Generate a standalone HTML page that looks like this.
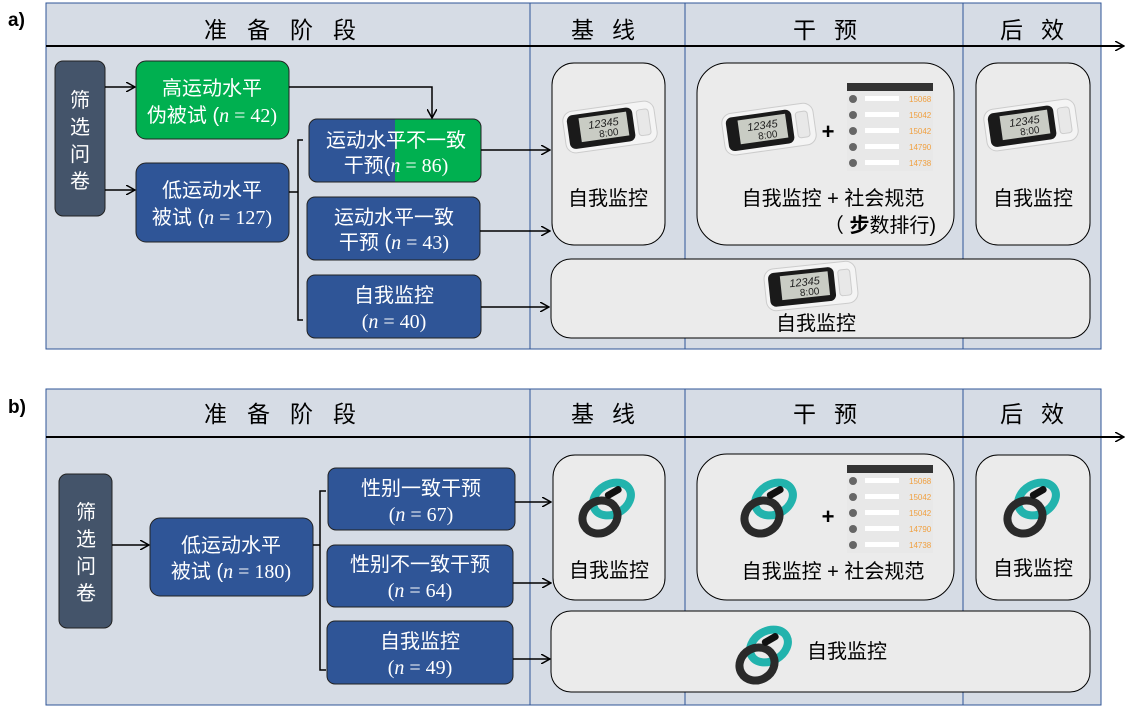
<!DOCTYPE html>
<html><head><meta charset="utf-8"><style>
body{margin:0;background:#fff;}
svg{display:block;font-family:"Liberation Sans","Noto Sans CJK SC",sans-serif;}
.h{font-size:23px;fill:#000;}
.w{font-size:20px;fill:#fff;}
.k{font-size:20px;fill:#000;}
.n{font-family:"Liberation Serif","Noto Sans CJK SC",serif;}
</style></head><body>
<svg width="1135" height="707" viewBox="0 0 1135 707">
<defs>
<marker id="ar" markerWidth="10" markerHeight="10" refX="9" refY="5" orient="auto" markerUnits="userSpaceOnUse">
<path d="M0,0 L9,5 L0,10" fill="none" stroke="#000" stroke-width="1.5"/></marker>
<g id="ped">
<rect x="0" y="0" width="92" height="42" rx="10" fill="#f4f4f4" stroke="#ccc"/>
<rect x="4" y="4" width="66" height="34" rx="6" fill="#1a1a1a"/>
<rect x="16" y="8" width="48" height="24" fill="#c9ccc4"/>
<rect x="74" y="8" width="12" height="26" rx="3" fill="#e8e8e8" stroke="#ccc"/>
<text x="40" y="20" font-size="11" text-anchor="middle" fill="#222" font-style="italic">12345</text>
<text x="44" y="30" font-size="10" text-anchor="middle" fill="#222">8:00</text>
</g>
<g id="band">
<ellipse cx="34" cy="24" rx="20" ry="15" fill="none" stroke="#22b3ad" stroke-width="8" transform="rotate(-30 34 24)"/>
<ellipse cx="22" cy="42" rx="18" ry="16" fill="none" stroke="#2a2a2a" stroke-width="8" transform="rotate(-30 22 42)"/>
<rect x="26" y="14" width="18" height="7" rx="3" fill="#111" transform="rotate(-30 35 17)"/>
</g>
<g id="lb">
<rect x="0" y="0" width="86" height="88" fill="#e8e8e8"/>
<rect x="0" y="0" width="86" height="8" fill="#333"/>
<g font-size="8" fill="#f0a040"><text x="62" y="19">15068</text><text x="62" y="35">15042</text><text x="62" y="51">15042</text><text x="62" y="67">14790</text><text x="62" y="83">14738</text></g>
<g fill="#666"><circle cx="6" cy="16" r="4"/><circle cx="6" cy="32" r="4"/><circle cx="6" cy="48" r="4"/><circle cx="6" cy="64" r="4"/><circle cx="6" cy="80" r="4"/></g>
<g fill="#fff"><rect x="18" y="13" width="34" height="5"/><rect x="18" y="29" width="34" height="5"/><rect x="18" y="45" width="34" height="5"/><rect x="18" y="61" width="34" height="5"/><rect x="18" y="77" width="34" height="5"/></g>
</g>
</defs>

<!-- Panel a -->
<text x="8" y="26" font-size="19" font-weight="bold">a)</text>
<rect x="46" y="3" width="1055" height="346" fill="#d6dce5" stroke="#2f5597" stroke-width="1"/>
<line x1="530" y1="3" x2="530" y2="349" stroke="#2f5597"/>
<line x1="685" y1="3" x2="685" y2="349" stroke="#2f5597"/>
<line x1="963" y1="3" x2="963" y2="349" stroke="#2f5597"/>
<line x1="46" y1="46" x2="1124" y2="46" stroke="#000" stroke-width="2" marker-end="url(#ar)"/>
<text class="h" x="290" y="38" text-anchor="middle" letter-spacing="20">准备阶段</text>
<text class="h" x="612" y="38" text-anchor="middle" letter-spacing="18">基线</text>
<text class="h" x="834" y="38" text-anchor="middle" letter-spacing="18">干预</text>
<text class="h" x="1041" y="38" text-anchor="middle" letter-spacing="18">后效</text>

<rect x="55" y="61" width="50" height="155" rx="8" fill="#44546a" stroke="#222"/>
<text class="w" x="80" y="107" text-anchor="middle">筛</text>
<text class="w" x="80" y="134" text-anchor="middle">选</text>
<text class="w" x="80" y="161" text-anchor="middle">问</text>
<text class="w" x="80" y="188" text-anchor="middle">卷</text>
<line x1="105" y1="87" x2="135" y2="87" stroke="#000" stroke-width="1.5" marker-end="url(#ar)"/>
<line x1="105" y1="190" x2="135" y2="190" stroke="#000" stroke-width="1.5" marker-end="url(#ar)"/>

<rect x="136" y="61" width="153" height="78" rx="10" fill="#00b050" stroke="#222"/>
<text class="w" x="212" y="95" text-anchor="middle">高运动水平</text>
<text class="w" x="212" y="122" text-anchor="middle">伪被试 (<tspan class="n" font-style="italic">n</tspan><tspan class="n"> = 42)</tspan></text>
<rect x="136" y="163" width="153" height="79" rx="10" fill="#2f5597" stroke="#222"/>
<text class="w" x="212" y="197" text-anchor="middle">低运动水平</text>
<text class="w" x="212" y="224" text-anchor="middle">被试 (<tspan class="n" font-style="italic">n</tspan><tspan class="n"> = 127)</tspan></text>

<polyline points="289,87 432,87 432,118" fill="none" stroke="#000" stroke-width="1.5" marker-end="url(#ar)"/>
<path d="M289,192 H298 M303,140 H298 V320 H303" fill="none" stroke="#000" stroke-width="1.5"/>

<clipPath id="c1"><rect x="309" y="119" width="172" height="63" rx="8"/></clipPath>
<g clip-path="url(#c1)"><rect x="309" y="119" width="86" height="63" fill="#2f5597"/><rect x="395" y="119" width="86" height="63" fill="#00b050"/></g>
<rect x="309" y="119" width="172" height="63" rx="8" fill="none" stroke="#222"/>
<text class="w" x="396" y="147" text-anchor="middle">运动水平不一致</text>
<text class="w" x="396" y="172" text-anchor="middle">干预(<tspan class="n" font-style="italic">n</tspan><tspan class="n"> = 86)</tspan></text>
<rect x="307" y="197" width="173" height="63" rx="8" fill="#2f5597" stroke="#222"/>
<text class="w" x="394" y="224" text-anchor="middle">运动水平一致</text>
<text class="w" x="394" y="249" text-anchor="middle">干预 (<tspan class="n" font-style="italic">n</tspan><tspan class="n"> = 43)</tspan></text>
<rect x="307" y="275" width="174" height="63" rx="8" fill="#2f5597" stroke="#222"/>
<text class="w" x="394" y="302" text-anchor="middle">自我监控</text>
<text class="w n" x="394" y="328" text-anchor="middle">(<tspan font-style="italic">n</tspan> = 40)</text>

<line x1="481" y1="150" x2="550" y2="150" stroke="#000" stroke-width="1.5" marker-end="url(#ar)"/>
<line x1="480" y1="231" x2="550" y2="231" stroke="#000" stroke-width="1.5" marker-end="url(#ar)"/>
<line x1="481" y1="307" x2="549" y2="307" stroke="#000" stroke-width="1.5" marker-end="url(#ar)"/>

<rect x="552" y="63" width="113" height="182" rx="22" fill="#ebebeb" stroke="#000"/>
<rect x="697" y="63" width="257" height="182" rx="30" fill="#ebebeb" stroke="#000"/>
<rect x="976" y="63" width="114" height="182" rx="22" fill="#ebebeb" stroke="#000"/>
<rect x="551" y="259" width="539" height="79" rx="20" fill="#ebebeb" stroke="#000"/>
<use href="#ped" x="564" y="106" transform="rotate(-8 610 127)"/>
<use href="#ped" x="723" y="108" transform="rotate(-8 770 129)"/>
<use href="#ped" x="985" y="104" transform="rotate(-8 1031 125)"/>
<use href="#ped" x="765" y="265" transform="rotate(-6 811 286)"/>
<use href="#lb" x="847" y="83"/>
<text x="828" y="139" font-size="22" font-weight="bold" text-anchor="middle">+</text>
<text class="k" x="608" y="205" text-anchor="middle">自我监控</text>
<text class="k" x="833" y="205" text-anchor="middle">自我监控 +  社会规范</text>
<text class="k" x="880" y="232" text-anchor="middle">（ <tspan font-weight="bold">步</tspan>数排行)</text>
<text class="k" x="1033" y="205" text-anchor="middle">自我监控</text>
<text class="k" x="816" y="330" text-anchor="middle">自我监控</text>

<!-- Panel b -->
<text x="8" y="413" font-size="19" font-weight="bold">b)</text>
<rect x="46" y="389" width="1055" height="316" fill="#d6dce5" stroke="#2f5597" stroke-width="1"/>
<line x1="530" y1="389" x2="530" y2="705" stroke="#2f5597"/>
<line x1="685" y1="389" x2="685" y2="705" stroke="#2f5597"/>
<line x1="963" y1="389" x2="963" y2="705" stroke="#2f5597"/>
<line x1="46" y1="437" x2="1124" y2="437" stroke="#000" stroke-width="2" marker-end="url(#ar)"/>
<text class="h" x="290" y="422" text-anchor="middle" letter-spacing="20">准备阶段</text>
<text class="h" x="612" y="422" text-anchor="middle" letter-spacing="18">基线</text>
<text class="h" x="834" y="422" text-anchor="middle" letter-spacing="18">干预</text>
<text class="h" x="1041" y="422" text-anchor="middle" letter-spacing="18">后效</text>

<rect x="59" y="474" width="53" height="154" rx="8" fill="#44546a" stroke="#222"/>
<text class="w" x="86" y="519" text-anchor="middle">筛</text>
<text class="w" x="86" y="546" text-anchor="middle">选</text>
<text class="w" x="86" y="573" text-anchor="middle">问</text>
<text class="w" x="86" y="600" text-anchor="middle">卷</text>
<line x1="112" y1="545" x2="149" y2="545" stroke="#000" stroke-width="1.5" marker-end="url(#ar)"/>
<rect x="150" y="518" width="163" height="78" rx="10" fill="#2f5597" stroke="#222"/>
<text class="w" x="231" y="552" text-anchor="middle">低运动水平</text>
<text class="w" x="231" y="578" text-anchor="middle">被试 (<tspan class="n" font-style="italic">n</tspan><tspan class="n"> = 180)</tspan></text>
<path d="M313,545 H320 M326,491 H320 V670 H326" fill="none" stroke="#000" stroke-width="1.5"/>

<rect x="328" y="468" width="187" height="62" rx="8" fill="#2f5597" stroke="#222"/>
<text class="w" x="421" y="495" text-anchor="middle">性别一致干预</text>
<text class="w n" x="421" y="521" text-anchor="middle">(<tspan font-style="italic">n</tspan> = 67)</text>
<rect x="327" y="545" width="186" height="62" rx="8" fill="#2f5597" stroke="#222"/>
<text class="w" x="420" y="571" text-anchor="middle">性别不一致干预</text>
<text class="w n" x="420" y="597" text-anchor="middle">(<tspan font-style="italic">n</tspan> = 64)</text>
<rect x="327" y="621" width="186" height="63" rx="8" fill="#2f5597" stroke="#222"/>
<text class="w" x="420" y="648" text-anchor="middle">自我监控</text>
<text class="w n" x="420" y="674" text-anchor="middle">(<tspan font-style="italic">n</tspan> = 49)</text>

<line x1="515" y1="502" x2="551" y2="502" stroke="#000" stroke-width="1.5" marker-end="url(#ar)"/>
<line x1="513" y1="583" x2="551" y2="583" stroke="#000" stroke-width="1.5" marker-end="url(#ar)"/>
<line x1="513" y1="659" x2="550" y2="659" stroke="#000" stroke-width="1.5" marker-end="url(#ar)"/>

<rect x="553" y="455" width="112" height="145" rx="22" fill="#ebebeb" stroke="#000"/>
<rect x="697" y="454" width="257" height="146" rx="30" fill="#ebebeb" stroke="#000"/>
<rect x="976" y="455" width="114" height="145" rx="22" fill="#ebebeb" stroke="#000"/>
<rect x="551" y="611" width="539" height="81" rx="20" fill="#ebebeb" stroke="#000"/>
<use href="#band" x="578" y="475"/>
<use href="#band" x="740" y="475"/>
<use href="#band" x="1003" y="475"/>
<use href="#band" x="735" y="622"/>
<use href="#lb" x="847" y="465"/>
<text x="828" y="524" font-size="22" font-weight="bold" text-anchor="middle">+</text>
<text class="k" x="609" y="577" text-anchor="middle">自我监控</text>
<text class="k" x="833" y="578" text-anchor="middle">自我监控 +  社会规范</text>
<text class="k" x="1033" y="575" text-anchor="middle">自我监控</text>
<text class="k" x="847" y="658" text-anchor="middle">自我监控</text>
</svg>
</body></html>
